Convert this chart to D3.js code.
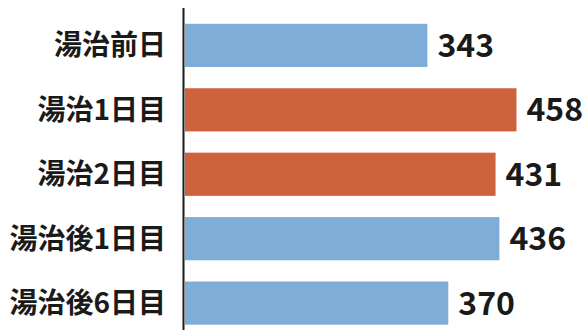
<!DOCTYPE html>
<html><head><meta charset="utf-8">
<script src="https://cdn.jsdelivr.net/npm/d3@7"></script>
<style>
html,body{margin:0;padding:0;background:#fff;}
svg{display:block;}
</style></head>
<body>
<svg id="chart" width="588" height="330"></svg>
<script>
const categories = ["湯治前日", "湯治1日目", "湯治2日目", "湯治後1日目", "湯治後6日目"];
const values = [343, 458, 431, 436, 370];
const highlight = [false, true, true, false, false];

const svg = d3.select("#chart");
const x = d3.scaleLinear().domain([30, 500]).range([185, 549]);
const y = d3.scaleBand().domain(categories).range([13.5, 335]).paddingInner(0.33).paddingOuter(0.16);

const data = categories.map((c, i) => ({c, v: values[i], h: highlight[i]}));

svg.selectAll("rect.bar").data(data).join("rect")
  .attr("class", "bar")
  .attr("x", x(30))
  .attr("y", d => y(d.c))
  .attr("width", d => x(d.v) - x(30))
  .attr("height", y.bandwidth())
  .attr("fill", d => d.h ? "#cd623c" : "#7eaed8");

svg.append("line")
  .attr("x1", 183.5).attr("x2", 183.5)
  .attr("y1", 8).attr("y2", 330)
  .attr("stroke", "#1a1a1a").attr("stroke-width", 2);

const font = "'Noto Sans CJK JP', 'Noto Sans', sans-serif";

svg.selectAll("text.cat").data(data).join("text")
  .attr("class", "cat")
  .attr("x", 166)
  .attr("y", d => y(d.c) + y.bandwidth() / 2)
  .attr("dy", "0.36em")
  .attr("text-anchor", "end")
  .attr("font-family", font)
  .attr("font-weight", 700)
  .attr("font-size", 28)
  .attr("fill", "#1a1a1a")
  .text(d => d.c);

svg.selectAll("text.val").data(data).join("text")
  .attr("class", "val")
  .attr("x", d => x(d.v) + 10)
  .attr("y", d => y(d.c) + y.bandwidth() / 2)
  .attr("dy", "0.36em")
  .attr("font-family", font)
  .attr("font-weight", 700)
  .attr("font-size", 32)
  .attr("fill", "#1a1a1a")
  .text(d => d.v);
</script>
</body></html>
